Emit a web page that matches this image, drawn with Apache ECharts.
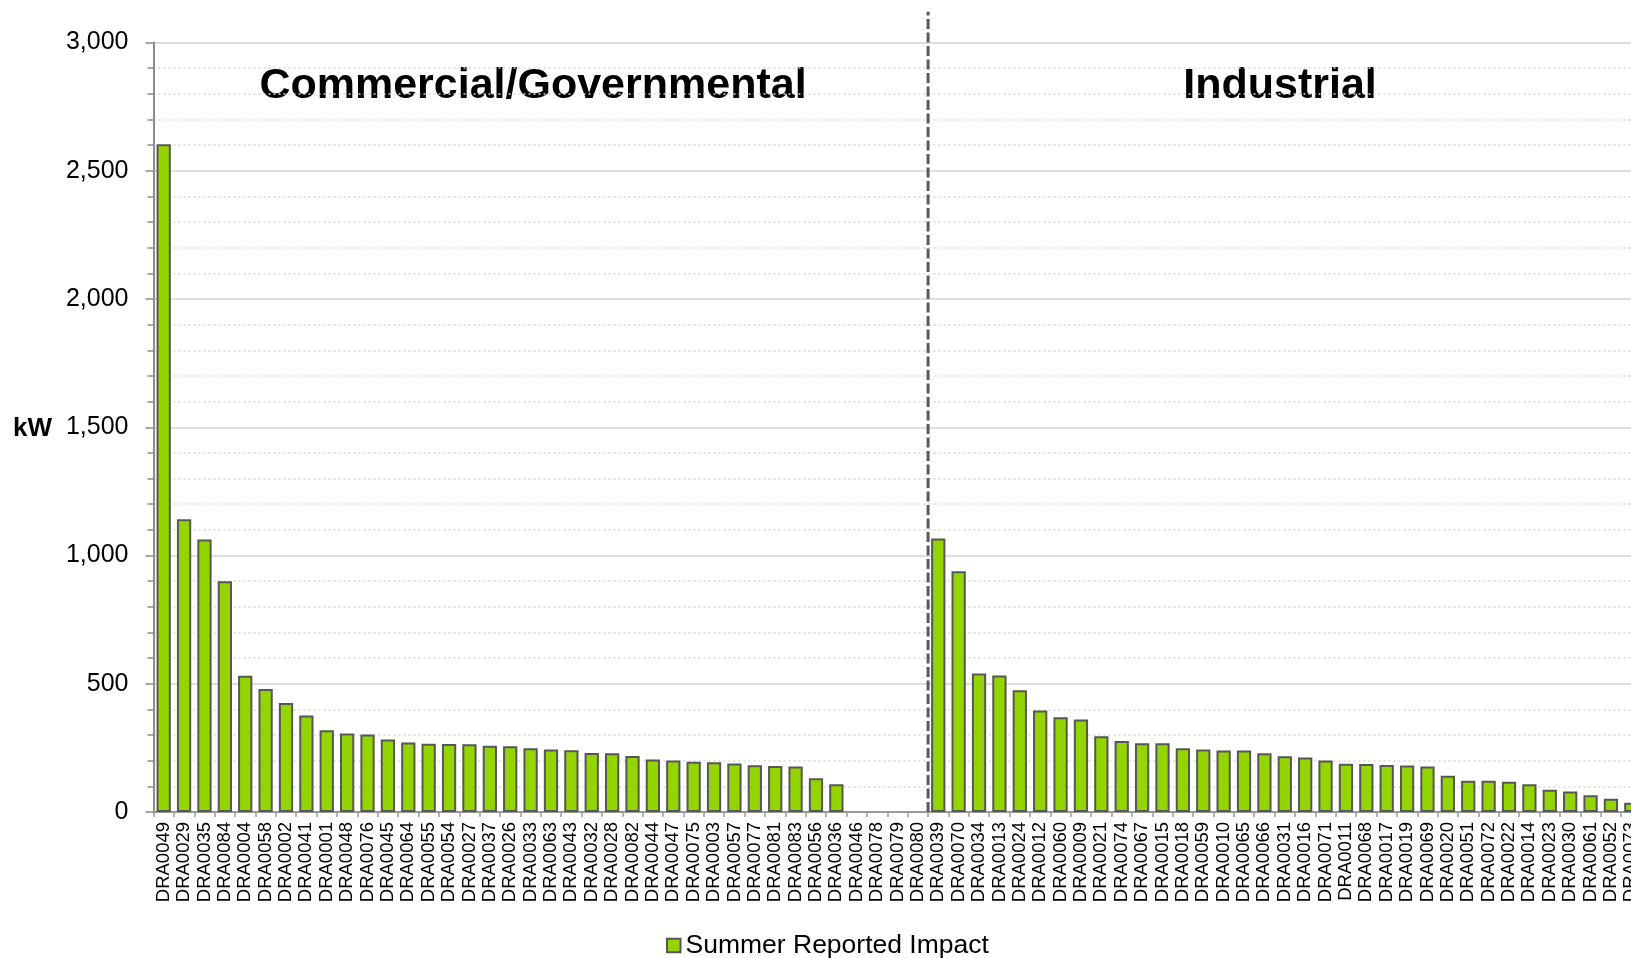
<!DOCTYPE html>
<html>
<head>
<meta charset="utf-8">
<script src="https://cdn.jsdelivr.net/npm/echarts@6/dist/echarts.min.js"></script>
<style>
  html, body { margin: 0; padding: 0; background: #ffffff; }
  #chart { width: 1631px; height: 958px; }
</style>
</head>
<body>
<div id="chart"></div>
<script>
// Summer reported demand impact per site (kW), grouped by customer segment
const commercialIds = [
  'DRA0049', 'DRA0029', 'DRA0035', 'DRA0084', 'DRA0004', 'DRA0058', 'DRA0002', 'DRA0041',
  'DRA0001', 'DRA0048', 'DRA0076', 'DRA0045', 'DRA0064', 'DRA0055', 'DRA0054', 'DRA0027',
  'DRA0037', 'DRA0026', 'DRA0033', 'DRA0063', 'DRA0043', 'DRA0032', 'DRA0028', 'DRA0082',
  'DRA0044', 'DRA0047', 'DRA0075', 'DRA0003', 'DRA0057', 'DRA0077', 'DRA0081', 'DRA0083',
  'DRA0056', 'DRA0036', 'DRA0046', 'DRA0078', 'DRA0079', 'DRA0080'
];
const commercialKw = [
  2603, 1141, 1062, 900, 531, 480, 425, 376,
  319, 306, 302, 283, 271, 266, 265, 264,
  258, 256, 249, 244, 241, 230, 229, 218,
  205, 201, 196, 194, 189, 182, 179, 177,
  132, 108, 0, 0, 0, 0
];
const industrialIds = [
  'DRA0039', 'DRA0070', 'DRA0034', 'DRA0013', 'DRA0024', 'DRA0012', 'DRA0060', 'DRA0009',
  'DRA0021', 'DRA0074', 'DRA0067', 'DRA0015', 'DRA0018', 'DRA0059', 'DRA0010', 'DRA0065',
  'DRA0066', 'DRA0031', 'DRA0016', 'DRA0071', 'DRA0011', 'DRA0068', 'DRA0017', 'DRA0019',
  'DRA0069', 'DRA0020', 'DRA0051', 'DRA0072', 'DRA0022', 'DRA0014', 'DRA0023', 'DRA0030',
  'DRA0061', 'DRA0052', 'DRA0073'
];
const industrialKw = [
  1066, 939, 540, 532, 475, 396, 369, 361,
  295, 277, 268, 268, 249, 244, 240, 240,
  229, 217, 212, 201, 188, 187, 183, 181,
  177, 141, 122, 122, 118, 108, 87, 80,
  65, 52, 36
];
const groupTitles = ['Commercial/Governmental', 'Industrial'];
const seriesName = 'Summer Reported Impact';
const axisName = 'kW';

const categories = commercialIds.concat(industrialIds);
const values = commercialKw.concat(industrialKw);
const dividerAt = commercialIds.length;

// sites with no reported impact get no outline either
const barData = values.map(v => v === 0 ? { value: v, itemStyle: { borderWidth: 0 } } : v);

const FONT = "'Liberation Sans', Arial, Helvetica, sans-serif";

const chart = echarts.init(document.getElementById('chart'), null, { renderer: 'canvas' });

chart.setOption({
  animation: false,
  backgroundColor: '#ffffff',
  textStyle: { fontFamily: FONT },
  grid: {
    left: 153.5, top: 42.5, width: 1488, height: 769.5,
    containLabel: false, outerBoundsMode: 'none'
  },
  legend: {
    data: [seriesName],
    left: 661,
    top: 927,
    icon: 'rect',
    itemWidth: 13.5,
    itemHeight: 13.5,
    textStyle: { fontSize: 26.5, color: '#000', fontFamily: FONT }
  },
  graphic: [
    {
      type: 'text', x: 533, y: 86,
      style: { text: groupTitles[0], font: 'bold 43px ' + FONT, fill: '#000',
               textAlign: 'center', textVerticalAlign: 'middle' }
    },
    {
      type: 'text', x: 1280, y: 86,
      style: { text: groupTitles[1], font: 'bold 43px ' + FONT, fill: '#000',
               textAlign: 'center', textVerticalAlign: 'middle' }
    },
    {
      type: 'text', x: 32.5, y: 429,
      style: { text: axisName, font: 'bold 26px ' + FONT, fill: '#000',
               textAlign: 'center', textVerticalAlign: 'middle' }
    }
  ],
  xAxis: [
    {
      type: 'category',
      data: categories,
      boundaryGap: true,
      axisLine: { lineStyle: { color: '#9a9a9a', width: 2 } },
      axisTick: { show: true, length: 5, lineStyle: { color: '#9a9a9a', width: 1.5 } },
      axisLabel: {
        interval: 0, rotate: 90, margin: 10,
        fontSize: 18.5, color: '#000', fontFamily: FONT
      },
      splitLine: { show: false }
    },
    {
      // helper scale spanning category boundaries, used for the segment divider
      type: 'value', min: 0, max: categories.length, show: false
    }
  ],
  yAxis: {
    type: 'value',
    min: 0, max: 3000, interval: 500,
    axisLine: { show: true, lineStyle: { color: '#8c8c8c', width: 2 } },
    axisTick: { show: true, length: 8, lineStyle: { color: '#8c8c8c', width: 1.5 } },
    minorTick: { show: true, splitNumber: 5, length: 6, lineStyle: { color: '#8c8c8c', width: 1.5 } },
    axisLabel: {
      margin: 25, fontSize: 25, color: '#000', fontFamily: FONT,
      padding: [4, 0, 0, 0],
      formatter: v => v.toLocaleString('en-US')
    },
    splitLine: { show: true, lineStyle: { color: '#d4d4d4', width: 1.5 } },
    minorSplitLine: { show: true, lineStyle: { color: '#d6d6d6', width: 1.5, type: [2, 3] } }
  },
  series: [
    {
      name: seriesName,
      type: 'bar',
      data: barData,
      barWidth: '70%',
      itemStyle: { color: '#94d500', borderColor: '#575757', borderWidth: 2 }
    },
    {
      name: 'divider',
      type: 'line',
      xAxisIndex: 1,
      yAxisIndex: 0,
      data: [[dividerAt, 0], [dividerAt, 3120]],
      clip: false,
      symbol: 'none',
      silent: true,
      z: 5,
      lineStyle: { color: '#5a5a5a', width: 3, type: [10, 3.5] }
    }
  ]
});
</script>
</body>
</html>
